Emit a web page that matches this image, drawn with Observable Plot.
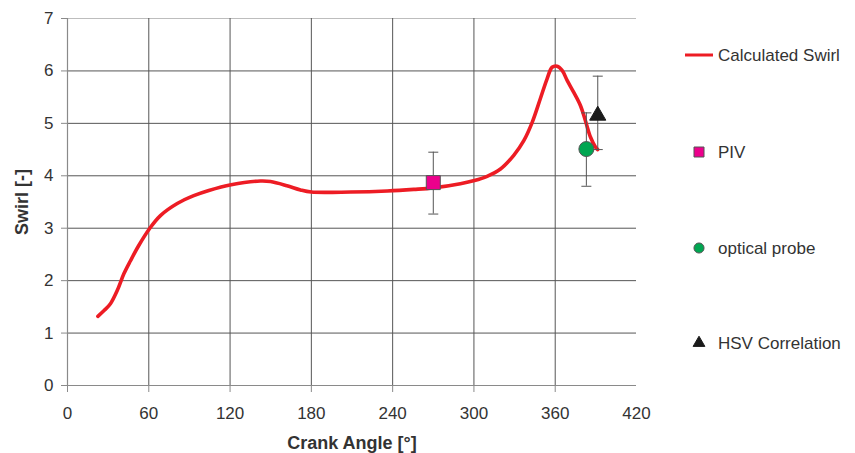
<!DOCTYPE html>
<html>
<head>
<meta charset="utf-8">
<script src="https://cdn.jsdelivr.net/npm/d3@7"></script>
<script src="https://cdn.jsdelivr.net/npm/@observablehq/plot@0.6"></script>
<style>
  html, body { margin: 0; padding: 0; background: #fff; }
  #wrap { position: relative; width: 855px; height: 453px; font-family: "Liberation Sans", Arial, Helvetica, sans-serif; }
  #legend { position: absolute; left: 0; top: 0; }
</style>
</head>
<body>
<div id="wrap"></div>
<script>
// ---- data ----
const crankAngle = [22.4, 27, 31.7, 36.7, 41.6, 46.5, 52.6, 60.5, 68.6, 81, 93.2, 104.3, 120.8, 142.4, 149.8, 162, 172, 180, 209, 236, 255.6, 270, 290, 300.4, 309.7, 319.6, 329.4, 336.8, 343, 349, 354, 357.7, 361.4, 365.1, 368.8, 373.7, 378.6, 382.3, 386, 389.7, 391.4];
const calcSwirl  = [1.32, 1.43, 1.56, 1.81, 2.13, 2.38, 2.67, 2.99, 3.24, 3.47, 3.62, 3.72, 3.83, 3.90, 3.89, 3.81, 3.73, 3.69, 3.69, 3.71, 3.74, 3.77, 3.85, 3.91, 3.99, 4.13, 4.39, 4.67, 5.02, 5.47, 5.85, 6.07, 6.09, 6.01, 5.82, 5.59, 5.34, 5.05, 4.74, 4.55, 4.50];

const measNames  = ["PIV", "optical probe", "HSV Correlation"];
const measAngle  = [270, 383, 391.4];
const measSwirl  = [3.87, 4.51, 5.15];
const measLow    = [3.27, 3.80, 4.50];
const measHigh   = [4.45, 5.20, 5.90];

const xTicks = [0, 60, 120, 180, 240, 300, 360, 420];
const yTicks = [0, 1, 2, 3, 4, 5, 6, 7];
const seriesName = "Calculated Swirl";
const xTitle = "Crank Angle [°]";
const yTitle = "Swirl [-]";

// ---- tables built from the arrays ----
const curve = crankAngle.map((a, i) => ({angle: a, swirl: calcSwirl[i]}));
const meas = measNames.map((n, i) => ({name: n, angle: measAngle[i], swirl: measSwirl[i], lo: measLow[i], hi: measHigh[i]}));

const RED = "#ed1c24", MAGENTA = "#ec008c", GREEN = "#00a651", BLACK = "#1a1a1a";
const GRID = "#555", AXIS = "#8a8a8a", TEXT = "#333";

const hline = { draw(ctx, size) { const r = Math.sqrt(size / Math.PI); ctx.moveTo(-r, 0); ctx.lineTo(r, 0); } };

const inner = xTicks.filter(t => t > 0 && t < 420);
const gridY = yTicks.filter(t => t > 0 && t < 7);

const chart = Plot.plot({
  width: 855,
  height: 453,
  marginLeft: 67,
  marginRight: 219,
  marginTop: 18,
  marginBottom: 68,
  style: {fontFamily: '"Liberation Sans", Arial, Helvetica, sans-serif', background: "#fff"},
  x: {domain: [0, 420]},
  y: {domain: [0, 7]},
  marks: [
    Plot.ruleY(gridY, {stroke: GRID, strokeWidth: 1}),
    Plot.ruleY([7], {stroke: "#bdbdbd", strokeWidth: 1}),
    Plot.ruleX(inner, {stroke: GRID, strokeWidth: 1}),
    Plot.ruleX([0], {stroke: AXIS, strokeWidth: 1.2}),
    Plot.ruleY([0], {stroke: AXIS, strokeWidth: 1.2, x1: 0, x2: 420}),
    Plot.axisY({ticks: yTicks, tickFormat: "d", tickSize: 6, tickPadding: 8, stroke: AXIS, fill: TEXT, fontSize: 17, label: null}),
    Plot.axisX({ticks: xTicks.filter(t => t < 420), tickSize: 7, tickFormat: () => "", stroke: AXIS, label: null}),
    Plot.axisX({ticks: xTicks, tickFormat: "d", tickSize: 0, tickPadding: 21, fill: TEXT, fontSize: 17, label: null}),
    Plot.text([xTitle], {frameAnchor: "bottom", textAnchor: "middle", dy: 58, lineAnchor: "middle", fontSize: 18, fontWeight: "bold", fill: TEXT}),
    Plot.text([yTitle], {frameAnchor: "left", textAnchor: "middle", dx: -45, rotate: -90, lineAnchor: "middle", fontSize: 18, fontWeight: "bold", fill: TEXT}),
    Plot.line(curve, {x: "angle", y: "swirl", stroke: RED, strokeWidth: 3.6, curve: "catmull-rom", strokeLinejoin: "round", strokeLinecap: "round"}),
    Plot.ruleX(meas, {x: "angle", y1: "lo", y2: "hi", stroke: GRID, strokeWidth: 1}),
    Plot.dot(meas, {x: "angle", y: "lo", symbol: hline, r: 5, stroke: GRID, strokeWidth: 1}),
    Plot.dot(meas, {x: "angle", y: "hi", symbol: hline, r: 5, stroke: GRID, strokeWidth: 1}),
    Plot.dot(meas.filter(d => d.name === "PIV"), {x: "angle", y: "swirl", symbol: "square", r: 7.9, fill: MAGENTA, stroke: "#555", strokeWidth: 1}),
    Plot.dot(meas.filter(d => d.name === "optical probe"), {x: "angle", y: "swirl", symbol: "circle", r: 7.5, fill: GREEN, stroke: "#555", strokeWidth: 1}),
    Plot.dot(meas.filter(d => d.name === "HSV Correlation"), {x: "angle", y: "swirl", symbol: "triangle", r: 6, fill: BLACK, stroke: BLACK, strokeWidth: 1})
  ]
});
const wrap = document.getElementById("wrap");
wrap.appendChild(chart);

// ---- legend (right side) ----
const ns = "http://www.w3.org/2000/svg";
const lg = document.createElementNS(ns, "svg");
lg.setAttribute("id", "legend");
lg.setAttribute("width", 855);
lg.setAttribute("height", 453);
lg.style.pointerEvents = "none";
const items = [
  {label: seriesName, y: 55, kind: "line"},
  {label: measNames[0], y: 152, kind: "square"},
  {label: measNames[1], y: 248, kind: "circle"},
  {label: measNames[2], y: 343, kind: "triangle"}
];
const sym = {square: d3.symbolSquare, circle: d3.symbolCircle, triangle: d3.symbolTriangle};
const fills = {square: MAGENTA, circle: GREEN, triangle: BLACK};
for (const it of items) {
  const g = document.createElementNS(ns, "g");
  if (it.kind === "line") {
    const l = document.createElementNS(ns, "line");
    l.setAttribute("x1", 685); l.setAttribute("x2", 713);
    l.setAttribute("y1", it.y); l.setAttribute("y2", it.y);
    l.setAttribute("stroke", RED); l.setAttribute("stroke-width", 3);
    g.appendChild(l);
  } else {
    const p = document.createElementNS(ns, "path");
    const area = it.kind === "square" ? 100 : it.kind === "circle" ? 80 : 60;
    p.setAttribute("d", d3.symbol(sym[it.kind], area)());
    p.setAttribute("transform", `translate(699,${it.y})`);
    p.setAttribute("fill", fills[it.kind]);
    p.setAttribute("stroke", it.kind === "triangle" ? BLACK : "#555");
    p.setAttribute("stroke-width", 1);
    g.appendChild(p);
  }
  const t = document.createElementNS(ns, "text");
  t.setAttribute("x", 718);
  t.setAttribute("y", it.y);
  t.setAttribute("dy", "0.35em");
  t.setAttribute("fill", TEXT);
  t.setAttribute("font-size", 17);
  t.setAttribute("font-family", '"Liberation Sans", Arial, Helvetica, sans-serif');
  t.textContent = it.label;
  g.appendChild(t);
  lg.appendChild(g);
}
wrap.appendChild(lg);
</script>
</body>
</html>
